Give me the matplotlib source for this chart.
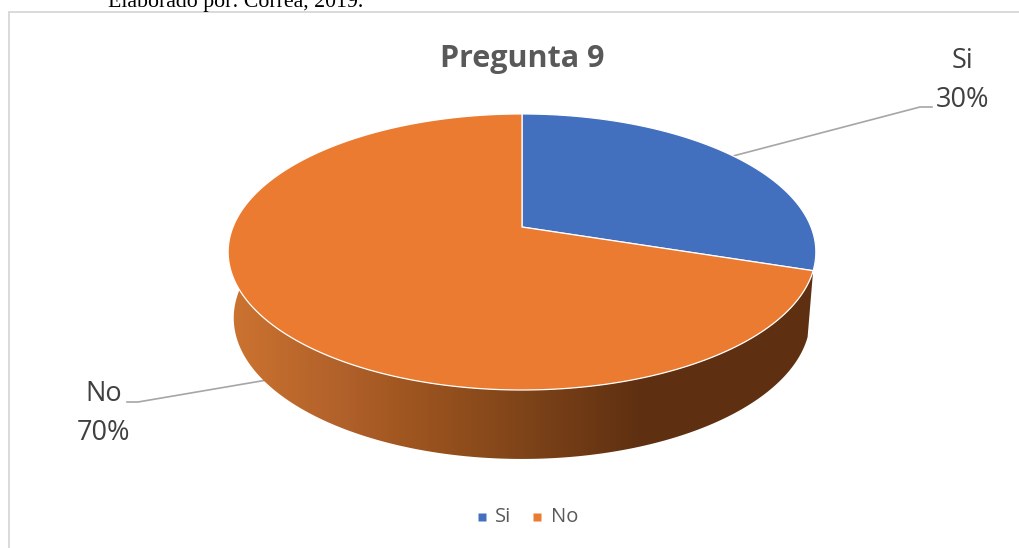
import numpy as np
import matplotlib
matplotlib.use("Agg")
import matplotlib.pyplot as plt
from matplotlib.colors import LinearSegmentedColormap
from matplotlib.patches import Polygon

categories = ["Si", "No"]
values = [30, 70]
colors = ["#4270BF", "#EB7B30"]
title = "Pregunta 9"
caption = "Elaborado por: Correa, 2019."

W, H = 1019, 548
CX = 522
K = 0.181
TOP = dict(ay=227, sx=289, sy=133.5)
BOT = dict(ay=292.4, sx=283.5, sy=136.4)


def rim(theta, plane):
    """Project a point of the pie circle (theta clockwise from north, degrees)."""
    t = np.radians(theta)
    x, y = np.sin(t), np.cos(t)
    d = 1 + K * y
    return np.column_stack([CX + plane["sx"] * x / d, plane["ay"] - plane["sy"] * y / d])


def apex(plane):
    return np.array([[CX, plane["ay"]]])


fig = plt.figure(figsize=(W / 100, H / 100), dpi=100, facecolor="white")
ax = fig.add_axes([0, 0, 1, 1])

fracs = np.array(values) / sum(values) * 360
edges = np.concatenate([[0], np.cumsum(fracs)])

# side wall: visible from the first slice boundary round the front to the left
front = np.linspace(edges[1], 283, 300)
wall_xy = np.vstack([rim(front, TOP), rim(front[::-1], BOT)])
wall = Polygon(wall_xy, closed=True, facecolor="none", edgecolor="none")
ax.add_patch(wall)
grad = LinearSegmentedColormap.from_list(
    "wall",
    [(0.0, "#CC7330"), (0.2, "#B0602A"), (0.3, "#A05620"), (0.5, "#7F4419"),
     (0.7, "#5F3011"), (1.0, "#5E3012")],
)
img = ax.imshow(np.linspace(0, 1, 400)[None, :], cmap=grad, vmin=0, vmax=1,
                extent=(228, 816, 460, 250), aspect="auto", zorder=2, interpolation="bilinear")
img.set_clip_path(wall)

# top face
for start, stop, col in zip(edges[:-1], edges[1:], colors):
    th = np.linspace(start, stop, 300)
    ax.add_patch(Polygon(np.vstack([apex(TOP), rim(th, TOP)]), closed=True, facecolor=col,
                         edgecolor="white", linewidth=0.9, zorder=3, joinstyle="round"))

# leader lines
ax.plot([733, 920, 932], [156, 107, 107], color="#A6A6A6", lw=1.2, zorder=1.5)
ax.plot([267, 138, 127], [380, 402, 402], color="#A6A6A6", lw=1.2, zorder=1.5)

# chart frame
ax.plot([9, 9, W], [H, 12, 12], color="#D9D9D9", lw=1.4, zorder=1, solid_joinstyle="miter")

FONT = "Open Sans"
ax.text(CX, 59, title, ha="center", va="center", family=FONT, weight="bold", fontsize=22,
        color="#595959")
for name, val, xc, y1, y2 in zip(categories, values, (963, 104), (61, 394), (100, 433)):
    ax.text(xc, y1, name, ha="center", va="center", family=FONT, fontsize=19.5, color="#404040")
    ax.text(xc, y2, f"{val}%", ha="center", va="center", family=FONT, fontsize=19.5, color="#404040")

for name, col, xm, xt in zip(categories, colors, (482, 537), (495, 551)):
    ax.plot([xm], [517], marker="s", ms=5.8, mec="none", color=col, zorder=3)
    ax.text(xt, 517, name, ha="left", va="center", family=FONT, fontsize=14.5, color="#595959")

ax.text(108, 7, caption, ha="left", va="baseline", family="Liberation Serif", fontsize=15.7,
        color="black", clip_on=True)

ax.set_xlim(0, W)
ax.set_ylim(H, 0)
ax.axis("off")
fig.savefig("out.png", dpi=100)
